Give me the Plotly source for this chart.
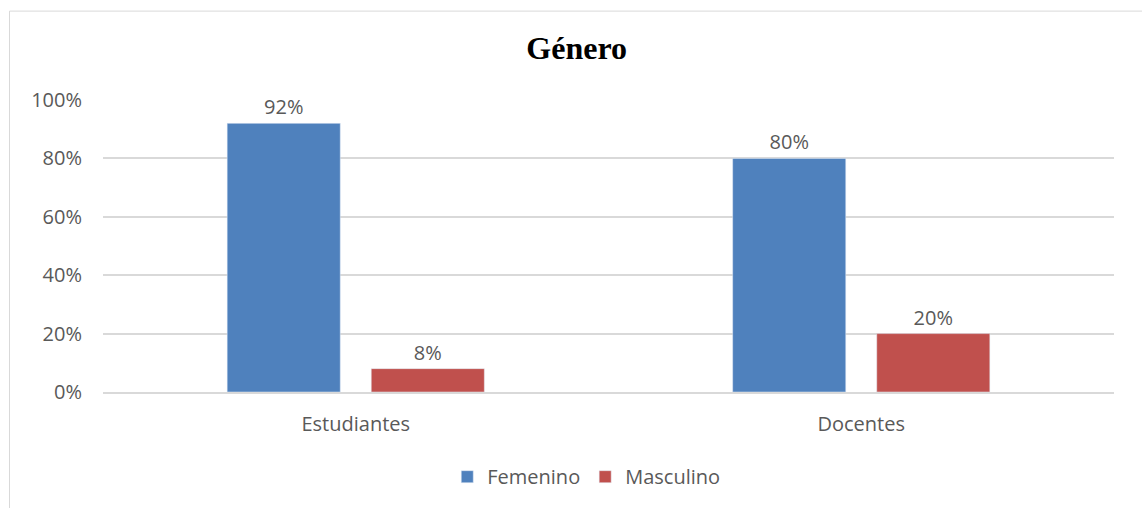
import plotly.graph_objects as go

categorias = ["Estudiantes", "Docentes"]
femenino = [0.92, 0.80]
masculino = [0.08, 0.20]
ticks_y = [0, 0.2, 0.4, 0.6, 0.8, 1.0]
ticks_txt = ["0%", "20%", "40%", "60%", "80%", "100%"]

gris = "#595959"
fuente = "Open Sans"
tam = 20

fig = go.Figure()
fig.add_trace(go.Bar(
    x=categorias, y=femenino, name="Femenino",
    marker_color="#4F81BD",
    texttemplate="%{y:.0%}", textposition="outside",
    textfont=dict(size=tam, color=gris, family=fuente),
    cliponaxis=False,
))
fig.add_trace(go.Bar(
    x=categorias, y=masculino, name="Masculino",
    marker_color="#C0504D",
    texttemplate="%{y:.0%}", textposition="outside",
    textfont=dict(size=tam, color=gris, family=fuente),
    cliponaxis=False,
))

fig.update_layout(
    width=1142, height=508,
    margin=dict(l=103, r=28, t=100, b=114),
    paper_bgcolor="white", plot_bgcolor="white",
    font=dict(family=fuente, size=tam, color=gris),
    title=dict(text="<b>Género</b>", xref="container", x=0.505, xanchor="center",
               yref="container", y=0.905, yanchor="middle",
               font=dict(family="Liberation Serif", size=32, color="black")),
    barmode="group", bargap=0.43, bargroupgap=0.215,
    showlegend=True,
    legend=dict(orientation="h", x=0.478, xanchor="center", y=-0.29, yanchor="middle",
                font=dict(size=tam, color=gris), itemwidth=30, traceorder="normal"),
)
fig.update_yaxes(range=[0, 1], tickvals=ticks_y, ticktext=ticks_txt,
                 showgrid=True, gridcolor="#D9D9D9", gridwidth=1.5,
                 zeroline=False, showline=False, ticks="", ticklabelstandoff=20,
                 tickfont=dict(size=tam, color=gris))
fig.update_xaxes(showline=True, linecolor="#D9D9D9", linewidth=1.5, ticks="",
                 tickfont=dict(size=tam, color=gris), ticklabelstandoff=13)

# borde del gráfico
fig.add_shape(type="rect", xref="paper", yref="paper",
              x0=(9.5 - 103) / 1011, x1=1.2, y0=-0.5, y1=1 + (100 - 10.5) / 294,
              line=dict(color="#D9D9D9", width=1), fillcolor="rgba(0,0,0,0)", layer="below")

fig.write_html("out.html", config={"displayModeBar": False},
               post_script="document.body.style.margin='0';")
